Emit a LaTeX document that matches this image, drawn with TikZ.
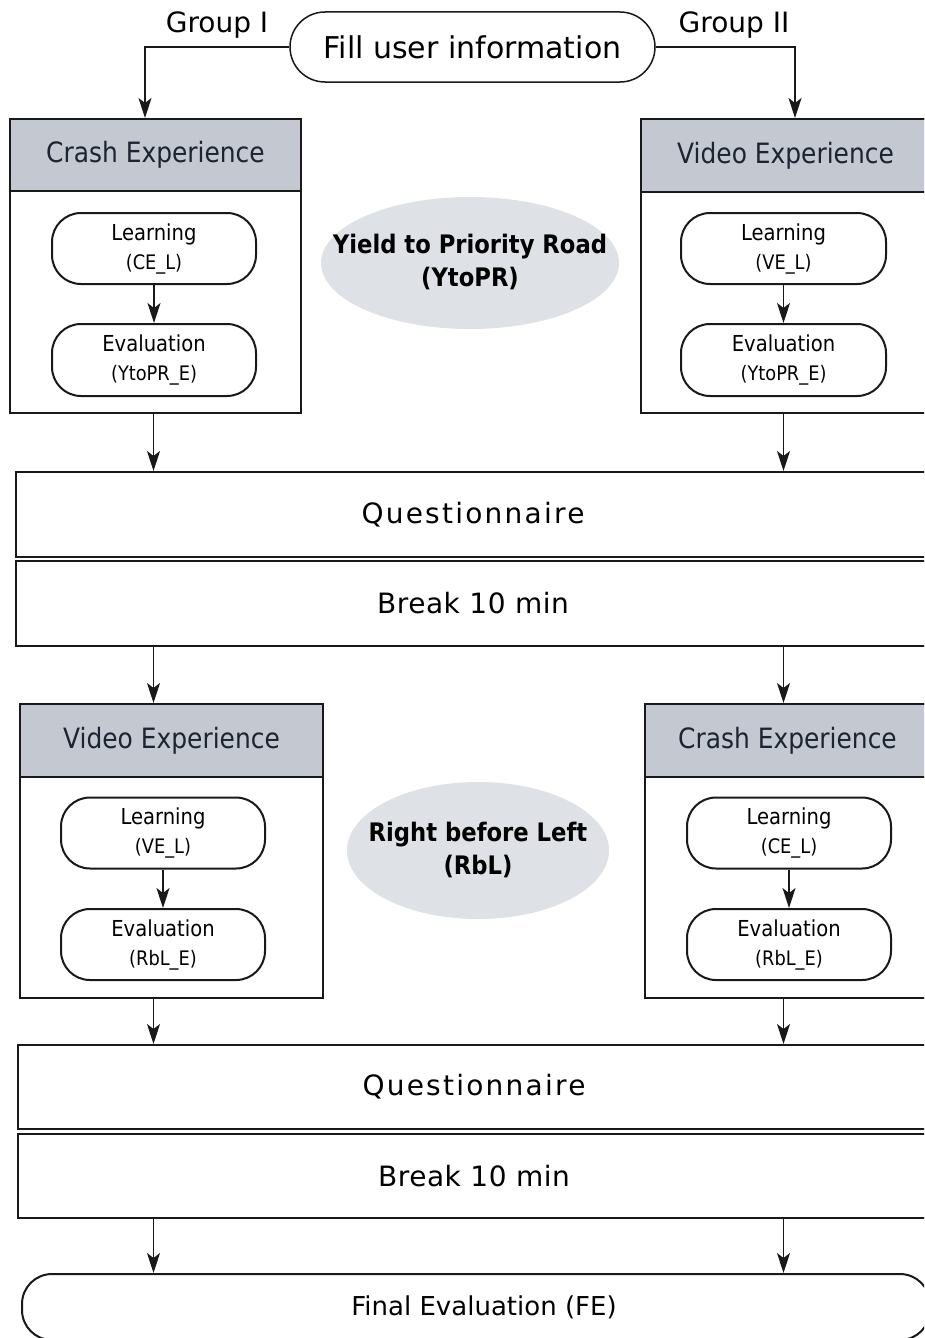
\documentclass[tikz,border=0pt]{standalone}
\usepackage{fontspec}
\setmainfont{DejaVu Sans}
\newfontfamily\tahfont{DejaVu Sans}[FakeStretch=0.89]
\usetikzlibrary{arrows.meta,shapes.geometric}
\definecolor{hdrfill}{RGB}{196,201,209}
\definecolor{ellfill}{RGB}{222,225,230}
\definecolor{hdrtext}{RGB}{28,35,50}
\definecolor{linec}{RGB}{25,25,25}
\tikzset{
  box/.style={draw=linec, line width=2pt, rectangle, inner sep=0pt, fill=white},
  hdr/.style={box, fill=hdrfill, text=hdrtext, font=\tahfont\fontsize{28}{32}\selectfont},
  pill/.style={draw=linec, line width=2pt, rounded corners=29pt, minimum width=204pt, minimum height=71pt, inner sep=0pt, align=center, font=\tahfont\fontsize{22}{24}\selectfont, fill=white},
  topic/.style={ellipse, fill=ellfill, inner sep=0pt},
  topictext/.style={align=center, inner sep=0pt, font=\tahfont\fontsize{25.5}{33}\selectfont\bfseries},
  wide/.style={box, font=\fontsize{28}{34}\selectfont},
  grp/.style={anchor=base, inner sep=0pt, font=\fontsize{28}{34}\selectfont},
  arr/.style={draw=linec, line width=1.3pt, -{Stealth[length=20pt,width=13pt,inset=5pt]}},
}
\newcommand{\sub}[1]{{\fontsize{20}{24}\selectfont #1}}
\begin{document}
\begin{tikzpicture}[x=1pt,y=-1pt]
\useasboundingbox (0,0) rectangle (924,1338);
\clip (0,0) rectangle (924,1338);
\fill[white] (0,0) rectangle (924,1338);

% top
\node[draw=linec, line width=1.5pt, rounded corners=35pt, minimum width=365pt, minimum height=70pt, inner sep=0pt, font=\fontsize{30}{36}\selectfont] (fill) at (472.5,47) {Fill user information};
\node[grp] (g1t) at (217,33) {Group I};
\node[grp] (g2t) at (734,33) {Group II};

% first block
\node[box, minimum width=291pt, minimum height=294pt] (c1) at (155.5,266) {};
\node[hdr, minimum width=291pt, minimum height=72pt] (c1h) at (155.5,155) {Crash Experience};
\node[pill] (l1) at (154,248.5) {Learning\\[5pt]\sub{(CE\_L)}};
\node[pill, minimum height=72pt] (e1) at (154,360) {Evaluation\\[5pt]\sub{(YtoPR\_E)}};

\node[box, minimum width=289pt, minimum height=294pt] (v1) at (785.5,266) {};
\node[hdr, minimum width=289pt, minimum height=73pt] (v1h) at (785.5,155.5) {Video Experience};
\node[pill, minimum width=205pt] (l2) at (783.5,248.5) {Learning\\[5pt]\sub{(VE\_L)}};
\node[pill, minimum width=205pt, minimum height=72pt] (e2) at (783.5,360) {Evaluation\\[5pt]\sub{(YtoPR\_E)}};

\node[topic, minimum width=298pt, minimum height=132pt] (ell1) at (470,263) {};
\node[topictext] (ell1t) at (470,262) {Yield to Priority Road\\(YtoPR)};

\node[wide, minimum width=914pt, minimum height=85pt] (q1) at (473,514.5) {\addfontfeature{LetterSpace=8}Questionnaire};
\node[wide, minimum width=914pt, minimum height=85pt] (b1) at (473,603.5) {\addfontfeature{LetterSpace=2}Break 10 min};

% second block
\node[box, minimum width=303pt, minimum height=294pt] (v2) at (171.5,851) {};
\node[hdr, minimum width=303pt, minimum height=73pt] (v2h) at (171.5,740.5) {Video Experience};
\node[pill] (l3) at (163,833) {Learning\\[5pt]\sub{(VE\_L)}};
\node[pill] (e3) at (163,944.5) {Evaluation\\[5pt]\sub{(RbL\_E)}};

\node[box, minimum width=285pt, minimum height=294pt] (c2) at (787.5,851) {};
\node[hdr, minimum width=285pt, minimum height=73pt] (c2h) at (787.5,740.5) {Crash Experience};
\node[pill] (l4) at (789,833) {Learning\\[5pt]\sub{(CE\_L)}};
\node[pill] (e4) at (789,944.5) {Evaluation\\[5pt]\sub{(RbL\_E)}};

\node[topic, minimum width=262pt, minimum height=137pt] (ell2) at (478,850.5) {};
\node[topictext] (ell2t) at (478,849.5) {Right before Left\\(RbL)};

\node[wide, minimum width=912pt, minimum height=84pt] (q2) at (474,1087) {\addfontfeature{LetterSpace=8}Questionnaire};
\node[wide, minimum width=912pt, minimum height=84pt] (b2) at (474,1176) {\addfontfeature{LetterSpace=2}Break 10 min};

\node[draw=linec, line width=2pt, rounded corners=30pt, minimum width=908pt, minimum height=66pt, inner sep=0pt, font=\fontsize{26}{31}\selectfont] (fe) at (476,1307) {\hspace*{16pt}Final Evaluation (FE)};

% connector columns
\coordinate (g1) at (145,0);
\coordinate (g2) at (795,0);
\coordinate (kL) at (153.5,0);
\coordinate (kR) at (783.5,0);

\draw[arr] (fill.west) -| (g1 |- c1h.north);
\draw[arr] (fill.east) -| (g2 |- v1h.north);
\draw[arr] (l1.south) -- (e1.north);
\draw[arr] (l2.south) -- (e2.north);
\draw[arr] (kL |- c1.south) -- (kL |- q1.north);
\draw[arr] (kR |- v1.south) -- (kR |- q1.north);
\draw[arr] (kL |- b1.south) -- (kL |- v2h.north);
\draw[arr] (kR |- b1.south) -- (kR |- c2h.north);
\draw[arr] (l3.south) -- (e3.north);
\draw[arr] (l4.south) -- (e4.north);
\draw[arr] (kL |- v2.south) -- (kL |- q2.north);
\draw[arr] (kR |- c2.south) -- (kR |- q2.north);
\draw[arr] (kL |- b2.south) -- (kL |- fe.north);
\draw[arr] (kR |- b2.south) -- (kR |- fe.north);
\end{tikzpicture}
\end{document}
